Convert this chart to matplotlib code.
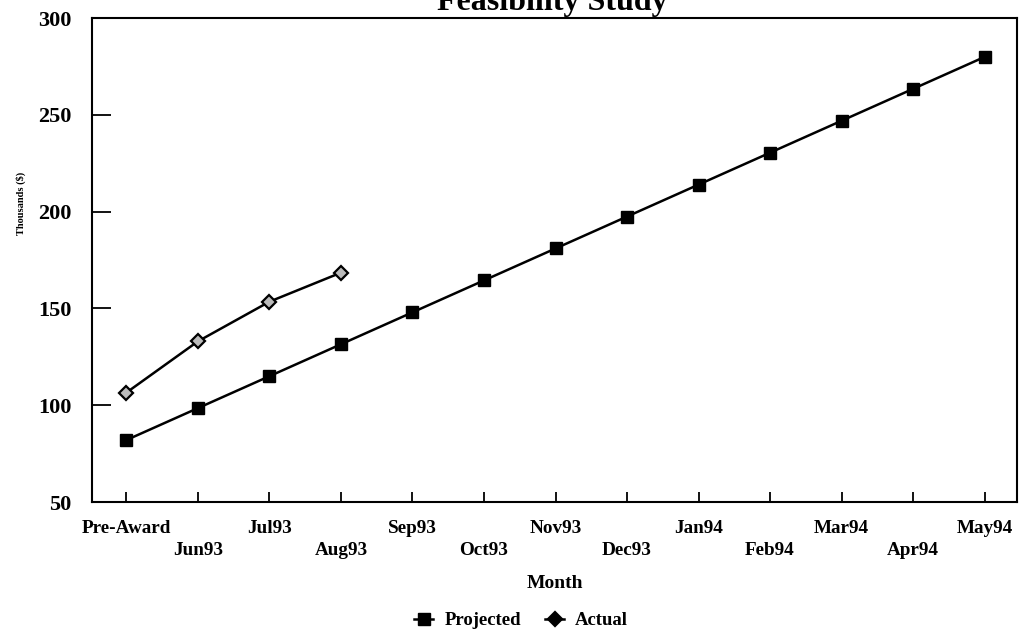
import matplotlib
matplotlib.use("Agg")
import matplotlib.pyplot as plt
import numpy as np

months = ["Pre-Award", "Jun93", "Jul93", "Aug93", "Sep93", "Oct93", "Nov93",
          "Dec93", "Jan94", "Feb94", "Mar94", "Apr94", "May94"]
projected = [82, 98.5, 115, 131.5, 148, 164.5, 181, 197.5, 214, 230.5, 247, 263.5, 280]
actual = [106.5, 133, 153.5, 168.5]

plt.rcParams["font.family"] = ["Liberation Serif", "DejaVu Serif"]
plt.rcParams["font.weight"] = "bold"

fig = plt.figure(figsize=(10.22, 6.4), dpi=100)
ax = fig.add_axes([0.090, 0.2156, 0.905, 0.756])

x = np.arange(len(months))
ax.plot(x, projected, color="black", lw=1.8, marker="s", ms=9,
        mfc="black", mec="black", label="Projected")
ax.plot(x[:len(actual)], actual, color="black", lw=1.8, marker="D", ms=7.5,
        mfc="#bbbbbb", mec="black", mew=1.6, label="Actual")

ax.set_xlim(-0.48, 12.45)
ax.set_ylim(50, 300)
ax.set_yticks([50, 100, 150, 200, 250, 300])
ax.set_xticks(x)
ax.set_xticklabels([m if i % 2 == 0 else "\n" + m for i, m in enumerate(months)],
                   linespacing=1.35)

ax.tick_params(axis="x", direction="in", length=7, width=1.3, pad=13,
               labelsize=13.75)
ax.tick_params(axis="y", direction="in", length=14, width=1.3, pad=15,
               labelsize=16)
for lab in ax.get_xticklabels() + ax.get_yticklabels():
    lab.set_fontweight("bold")
for sp in ax.spines.values():
    sp.set_linewidth(1.5)

ax.set_xlabel("Month", fontsize=14, fontweight="bold", labelpad=12)
fig.text(0.02, 0.683, "Thousands ($)", rotation=90, fontsize=7.5,
         fontweight="bold", ha="center", va="center")

fig.text(0.54, 1 - 10 / 640, "Feasibility Study", fontsize=23,
         fontweight="bold", ha="center", va="baseline")

leg = fig.legend(loc="center", bbox_to_anchor=(0.51, 0.03), ncol=2,
                 frameon=False, handlelength=1.0, handletextpad=0.6,
                 columnspacing=1.3, prop={"size": 13.5, "weight": "bold"})
for h in leg.legend_handles:
    h.set_markerfacecolor("black")

fig.savefig("out.png", dpi=100)
